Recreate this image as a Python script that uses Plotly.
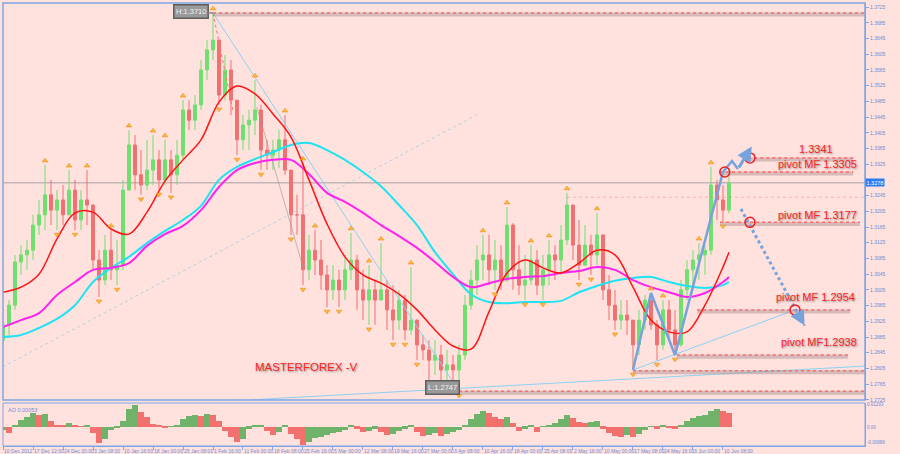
import plotly.graph_objects as go

# ---------------- DATA ----------------
# daily OHLC (bar index 0..121), EURUSD-like
highs = [1.2923,1.2979,1.3094,1.3119,1.3132,1.3196,1.3234,1.3323,1.3285,1.3259,
         1.3272,1.3310,1.3285,1.3259,1.3310,1.3221,1.3106,1.3145,1.3157,1.3132,
         1.3285,1.3412,1.3399,1.3361,1.3387,1.3399,1.3361,1.3387,1.3361,1.3387,
         1.3488,1.3488,1.3501,1.3590,1.3641,1.3710,1.3641,1.3603,1.3590,1.3488,
         1.3450,1.3463,1.3539,1.3476,1.3387,1.3387,1.3412,1.3450,1.3310,1.3247,
         1.3328,1.3145,1.3157,1.3132,1.3068,1.3068,1.3056,1.3094,1.3150,1.3094,
         1.3056,1.3068,1.3030,1.3124,1.3030,1.3017,1.3005,1.2992,1.3063,1.2930,
         1.2890,1.2877,1.2877,1.2865,1.2852,1.2839,1.2865,1.2992,1.3056,1.3119,
         1.3145,1.3145,1.3132,1.3119,1.3216,1.3175,1.3119,1.3094,1.3119,1.3106,
         1.3094,1.3132,1.3119,1.3170,1.3252,1.3221,1.3183,1.3170,1.3145,1.3201,
         1.3145,1.3043,1.3005,1.2979,1.2979,1.2928,1.2954,1.2992,1.2997,1.2928,
         1.2979,1.2979,1.2954,1.3030,1.3081,1.3106,1.3124,1.3119,1.3318,1.3285,
         1.3272,1.3310]
lows = [1.2865,1.2890,1.2954,1.3043,1.3056,1.3081,1.3145,1.3157,1.3170,1.3157,
        1.3170,1.3196,1.3157,1.3157,1.3170,1.3056,1.2987,1.3017,1.3030,1.3017,
        1.3056,1.3259,1.3259,1.3247,1.3259,1.3272,1.3259,1.3272,1.3252,1.3272,
        1.3336,1.3412,1.3412,1.3463,1.3539,1.3590,1.3476,1.3488,1.3450,1.3348,
        1.3361,1.3361,1.3399,1.3310,1.3310,1.3310,1.3315,1.3298,1.3145,1.3145,
        1.3017,1.3030,1.3043,1.3005,1.2961,1.2979,1.2961,1.2979,1.3030,1.2954,
        1.2928,1.2916,1.2916,1.2979,1.2903,1.2877,1.2903,1.2877,1.2890,1.2826,
        1.2826,1.2775,1.2788,1.2763,1.2775,1.2755,1.2747,1.2826,1.2954,1.2992,
        1.3030,1.3017,1.3005,1.3005,1.3025,1.3005,1.2992,1.2979,1.3017,1.2992,
        1.2979,1.3017,1.3030,1.3043,1.3119,1.3081,1.3030,1.3068,1.3043,1.3068,
        1.2979,1.2928,1.2903,1.2903,1.2890,1.2801,1.2839,1.2903,1.2903,1.2826,
        1.2852,1.2877,1.2839,1.2860,1.2979,1.3005,1.3030,1.3043,1.3094,1.3183,
        1.3178,1.3200]
closes = [1.2916,1.2966,1.3076,1.3094,1.3106,1.3170,1.3196,1.3247,1.3208,1.3234,
          1.3196,1.3259,1.3183,1.3234,1.3221,1.3081,1.3030,1.3106,1.3056,1.3068,
          1.3259,1.3374,1.3298,1.3272,1.3310,1.3336,1.3285,1.3336,1.3298,1.3348,
          1.3463,1.3437,1.3476,1.3565,1.3616,1.3641,1.3501,1.3565,1.3488,1.3387,
          1.3425,1.3437,1.3463,1.3361,1.3348,1.3361,1.3387,1.3310,1.3196,1.3196,
          1.3056,1.3106,1.3081,1.3043,1.3005,1.3030,1.3005,1.3056,1.3081,1.3005,
          1.2979,1.3005,1.2979,1.3005,1.2954,1.2928,1.2979,1.2903,1.2928,1.2865,
          1.2852,1.2826,1.2839,1.2801,1.2814,1.2801,1.2839,1.2966,1.3030,1.3081,
          1.3094,1.3056,1.3081,1.3030,1.3170,1.3056,1.3017,1.3030,1.3081,1.3017,
          1.3056,1.3094,1.3081,1.3132,1.3221,1.3119,1.3068,1.3119,1.3094,1.3145,
          1.3005,1.2966,1.2928,1.2941,1.2928,1.2865,1.2928,1.2979,1.2916,1.2865,
          1.2954,1.2903,1.2865,1.3005,1.3056,1.3081,1.3094,1.3106,1.3272,1.3234,
          1.3208,1.3277]
first_open = 1.2877
last_price = 1.3278

# moving averages read every 3 bars
ma_bars = [0,3,6,9,12,15,18,21,24,27,30,33,36,39,42,45,48,51,54,57,60,63,66,69,
           72,75,78,81,84,87,90,93,96,99,102,105,108,111,114,117,120,121]
ma_red = [1.2999,1.3012,1.3045,1.3135,1.3201,1.3203,1.3160,1.3147,1.3203,1.3282,
          1.3336,1.3387,1.3483,1.3524,1.3504,1.3453,1.3394,1.3285,1.3173,1.3089,
          1.3043,1.3022,1.2994,1.2954,1.2903,1.2862,1.2854,1.2949,1.3048,1.3081,
          1.3061,1.3048,1.3073,1.3106,1.3094,1.3012,1.2928,1.2898,1.2898,1.2966,
          1.3063,1.3101]
ma_magenta = [1.2910,1.2928,1.2946,1.2992,1.3025,1.3056,1.3061,1.3073,1.3117,1.3147,
              1.3168,1.3208,1.3267,1.3310,1.3328,1.3336,1.3336,1.3300,1.3252,1.3229,
              1.3201,1.3170,1.3142,1.3112,1.3076,1.3038,1.3012,1.3022,1.3033,1.3038,
              1.3040,1.3048,1.3053,1.3063,1.3056,1.3030,1.3012,1.2999,1.2987,1.2997,
              1.3025,1.3038]
ma_cyan = [1.2885,1.2890,1.2908,1.2931,1.2966,1.3025,1.3061,1.3089,1.3124,1.3155,
           1.3183,1.3219,1.3285,1.3318,1.3338,1.3356,1.3374,1.3379,1.3361,1.3336,
           1.3305,1.3269,1.3221,1.3170,1.3101,1.3045,1.2994,1.2974,1.2971,1.2974,
           1.2974,1.2977,1.2999,1.3015,1.3028,1.3035,1.3038,1.3025,1.3015,1.3010,
           1.3017,1.3025]

# Awesome oscillator per bar
ao = [-0.0017,-0.0034,0.0011,0.0039,0.0056,0.0078,0.0067,0.0073,0.0034,0.0011,
      0.0006,0.0022,0.0011,0.0003,0.0011,-0.0034,-0.0090,-0.0067,-0.0017,-0.0006,
      0.0034,0.0101,0.0123,0.0084,0.0056,0.0017,0.0006,-0.0003,0.0002,0.0011,
      0.0045,0.0062,0.0067,0.0062,0.0073,0.0067,0.0034,-0.0022,-0.0056,-0.0084,
      -0.0067,-0.0011,0.0006,0.0011,-0.0022,-0.0045,-0.0028,0.0011,-0.0039,-0.0067,
      -0.0101,-0.0084,-0.0062,-0.0056,-0.0045,-0.0034,-0.0028,-0.0017,0.0006,-0.0011,
      -0.0028,-0.0022,-0.0011,-0.0028,-0.0045,-0.0039,-0.0022,-0.0011,0.0006,-0.0028,
      -0.0050,-0.0045,-0.0034,-0.0050,-0.0039,-0.0028,-0.0017,0.0011,0.0045,0.0073,
      0.0090,0.0078,0.0056,0.0045,0.0056,0.0022,-0.0022,-0.0011,0.0006,-0.0028,
      0.0002,0.0011,0.0022,0.0045,0.0067,0.0050,0.0028,0.0022,0.0028,0.0034,
      -0.0011,-0.0034,-0.0050,-0.0056,-0.0045,-0.0056,-0.0039,-0.0017,0.0002,-0.0011,
      0.0006,-0.0002,-0.0011,0.0011,0.0034,0.0050,0.0062,0.0067,0.0090,0.0101,
      0.0090,0.0078]
ao_label = "AO 0.00053"

# time axis labels (one every 5 bars)
date_labels = ["10 Dec 2012","17 Dec 12:00","24 Dec 20:00","3 Jan 08:00","10 Jan 16:00",
               "18 Jan 00:00","25 Jan 08:00","1 Feb 16:00","11 Feb 00:00","18 Feb 08:00",
               "25 Feb 16:00","5 Mar 00:00","12 Mar 08:00","19 Mar 16:00","27 Mar 00:00",
               "3 Apr 08:00","10 Apr 16:00","18 Apr 00:00","25 Apr 08:00","2 May 16:00",
               "10 May 00:00","17 May 08:00","24 May 16:00","3 Jun 00:00","10 Jun 08:00"]
price_ticks = [1.3725,1.3685,1.3645,1.3605,1.3565,1.3525,1.3485,1.3445,1.3405,1.3365,
               1.3325,1.3245,1.3205,1.3165,1.3125,1.3085,1.3045,1.3005,1.2965,
               1.2925,1.2885,1.2845,1.2805,1.2765,1.2725]
ao_ticks = [0.01293, 0.0, -0.00889]
ao_ticktext = ["0.01293", "0.00", "-0.00889"]

# pivot levels (horizontal marked lines)
pivot_levels = [1.3710, 1.3341, 1.3305, 1.3177, 1.2954, 1.2839, 1.2799, 1.2747]
pivot_from = [35, 124.2, 119.5, 119.5, 115.7, 112.3, 105, 76]
pivot_to = [143.7, 141.7, 141.7, 142.8, 141.2, 140.8, 143.7, 143.7]
pivot_texts = ["1.3341", "pivot MF 1.3305", "pivot MF 1.3177", "pivot MF 1.2954", "pivot MF1.2938"]

# zigzag of last swing and projection
zz_bars = [105, 108, 112, 120, 121.5, 122.5]
zz_prices = [1.2801, 1.2997, 1.2839, 1.3305, 1.3333, 1.3313]
proj_up = [(122.5, 1.3313), (124.8, 1.3370)]
proj_down = [(123.0, 1.3211), (133.6, 1.2914)]
circle_bars = [124.5, 120.3, 124.5, 132.0]
circle_prices = [1.3341, 1.3305, 1.3177, 1.2954]

# trend lines
trend_lines = [((35, 1.3710), (76, 1.2747)),
               ((41.2, 1.2725), (143.7, 1.2811)),
               ((105, 1.2801), (132, 1.2954))]
faint_line = ((0, 1.2809), (79.5, 1.3455))
grey_line = ((42.3, 1.3471), (50, 1.3063))
pink_line = ((35, 1.3710), (38.3, 1.3463))
faint_level = (94, 1.3241)

# ---------------- STYLE ----------------
BG = "#ffe1de"
AX = "#7fa6e6"
TXT = "#6a8fd6"
GREEN = "#6fe06f"
RED = "#f27070"
FONT = "Liberation Sans"
XMAX = 143.67

n = len(closes)
bars = list(range(n))
opens = [first_open] + closes[:-1]

fig = go.Figure()

# trend lines (behind)
for (p0, p1) in trend_lines:
    fig.add_trace(go.Scatter(x=[p0[0], p1[0]], y=[p0[1], p1[1]], mode="lines",
                             line=dict(color="#8ad2f0", width=1), hoverinfo="skip"))
fig.add_trace(go.Scatter(x=[faint_line[0][0], faint_line[1][0]], y=[faint_line[0][1], faint_line[1][1]],
                         mode="lines", line=dict(color="rgba(120,200,225,0.6)", width=1, dash="dot"), hoverinfo="skip"))
fig.add_trace(go.Scatter(x=[grey_line[0][0], grey_line[1][0]], y=[grey_line[0][1], grey_line[1][1]],
                         mode="lines", line=dict(color="rgba(150,150,150,0.6)", width=1), hoverinfo="skip"))
fig.add_trace(go.Scatter(x=[pink_line[0][0], pink_line[1][0]], y=[pink_line[0][1], pink_line[1][1]],
                         mode="lines", line=dict(color="#ff7070", width=1, dash="dot"), hoverinfo="skip"))
fig.add_trace(go.Scatter(x=[faint_level[0], XMAX], y=[faint_level[1], faint_level[1]],
                         mode="lines", line=dict(color="rgba(255,110,110,0.45)", width=1, dash="dot"), hoverinfo="skip"))

# pivot lines with shadow
for lv, a, b in zip(pivot_levels, pivot_from, pivot_to):
    fig.add_trace(go.Scatter(x=[a, b], y=[lv - 0.0004, lv - 0.0004], mode="lines",
                             line=dict(color="rgba(165,140,140,0.45)", width=4), hoverinfo="skip"))
    fig.add_trace(go.Scatter(x=[a, b], y=[lv, lv], mode="lines",
                             line=dict(color="#ff6a6a", width=1.5, dash="dot"), hoverinfo="skip"))

# candles
fig.add_trace(go.Candlestick(x=bars, open=opens, high=highs, low=lows, close=closes,
                             increasing=dict(line=dict(color=GREEN, width=1), fillcolor=GREEN),
                             decreasing=dict(line=dict(color=RED, width=1), fillcolor=RED),
                             whiskerwidth=0, hoverinfo="skip"))

# moving averages
fig.add_trace(go.Scatter(x=ma_bars, y=ma_cyan, mode="lines", line=dict(color="#1ee3f2", width=2, shape="spline"), hoverinfo="skip"))
fig.add_trace(go.Scatter(x=ma_bars, y=ma_magenta, mode="lines", line=dict(color="#ff22ee", width=2, shape="spline"), hoverinfo="skip"))
fig.add_trace(go.Scatter(x=ma_bars, y=ma_red, mode="lines", line=dict(color="#ff1414", width=1.5, shape="spline"), hoverinfo="skip"))

# fractals
up_i = [i for i in range(1, n - 1) if highs[i] > highs[i - 1] and highs[i] >= highs[i + 1]]
dn_i = [i for i in range(1, n - 1) if lows[i] < lows[i - 1] and lows[i] <= lows[i + 1]]
fig.add_trace(go.Scatter(x=up_i, y=[highs[i] + 0.0011 for i in up_i], mode="markers",
                         marker=dict(symbol="triangle-up", size=5, color="#ffb340", line=dict(color="#e58a00", width=0.5)),
                         hoverinfo="skip"))
fig.add_trace(go.Scatter(x=dn_i, y=[lows[i] - 0.0011 for i in dn_i], mode="markers",
                         marker=dict(symbol="triangle-down", size=5, color="#ffb340", line=dict(color="#e58a00", width=0.5)),
                         hoverinfo="skip"))

# zigzag + projections
fig.add_trace(go.Scatter(x=zz_bars, y=zz_prices, mode="lines", line=dict(color="#76a3dc", width=2.5), hoverinfo="skip"))
fig.add_trace(go.Scatter(x=[p[0] for p in proj_down], y=[p[1] for p in proj_down], mode="lines",
                         line=dict(color="#76a3dc", width=3, dash="dot"), hoverinfo="skip"))
fig.add_trace(go.Scatter(x=circle_bars, y=circle_prices, mode="markers",
                         marker=dict(symbol="circle-open", size=10, color="#ee2020", line=dict(width=1.5)),
                         hoverinfo="skip"))

# AO histogram
ao_colors = ["#6fb36a" if (i == 0 or ao[i] >= ao[i - 1]) else "#f2716f" for i in range(n)]
fig.add_trace(go.Bar(x=bars, y=ao, marker=dict(color=ao_colors, line=dict(width=0)), width=1.0,
                     xaxis="x2", yaxis="y2", hoverinfo="skip"))

main_bottom = (446 - 400) / 443
ao_top = (446 - 403) / 443

annotations = []
# arrows of projections
annotations.append(dict(x=proj_up[1][0], y=proj_up[1][1], ax=proj_up[0][0], ay=proj_up[0][1],
                        xref="x", yref="y", axref="x", ayref="y", text="", showarrow=True,
                        arrowhead=2, arrowsize=1, arrowwidth=3, arrowcolor="#76a3dc"))
annotations.append(dict(x=proj_down[1][0], y=proj_down[1][1], ax=proj_down[1][0] - 0.8, ay=proj_down[1][1] + 0.0022,
                        xref="x", yref="y", axref="x", ayref="y", text="", showarrow=True,
                        arrowhead=2, arrowsize=1, arrowwidth=3, arrowcolor="#76a3dc"))
# H / L labels
hi_i = max(range(n), key=lambda i: highs[i])
lo_i = min(range(n), key=lambda i: lows[i])
annotations.append(dict(x=hi_i, y=highs[hi_i], xref="x", yref="y", text="H:%.4f" % highs[hi_i],
                        showarrow=True, arrowhead=0, arrowwidth=1.5, arrowcolor="#8a8a8a", ax=-22, ay=-1,
                        bgcolor="#9a9a9a", bordercolor="#5e5e5e", borderwidth=1.5, borderpad=1.5,
                        font=dict(family=FONT, size=7.5, color="#f2f2f2")))
annotations.append(dict(x=lo_i, y=lows[lo_i], xref="x", yref="y", text="L:%.4f" % lows[lo_i],
                        showarrow=True, arrowhead=0, arrowwidth=1.5, arrowcolor="#8a8a8a", ax=-16, ay=-4,
                        bgcolor="#9a9a9a", bordercolor="#5e5e5e", borderwidth=1.5, borderpad=1.5,
                        font=dict(family=FONT, size=7.5, color="#f2f2f2")))
# pivot texts
text_pos = [(816, 149), (817, 164), (817, 215), (815, 297), (819, 342)]
for t, (px, py) in zip(pivot_texts, text_pos):
    annotations.append(dict(x=(px - 3) / 862, y=(446 - py) / 443, xref="paper", yref="paper", text=t,
                            xanchor="center", yanchor="middle", showarrow=False,
                            font=dict(family=FONT, size=11, color="#ff2424", shadow="1px 1px 2px #8a8a8a")))
annotations.append(dict(x=(306 - 3) / 862, y=(446 - 367) / 443, xref="paper", yref="paper", text="MASTERFOREX -V",
                        xanchor="center", yanchor="middle", showarrow=False,
                        font=dict(family=FONT, size=11.5, color="#ff2424", shadow="1px 1px 2px #8a8a8a")))
# current price label
annotations.append(dict(x=1.0, y=last_price, xref="paper", yref="y", xanchor="left", text="%.4f" % last_price,
                        showarrow=False, bgcolor="#2d7cf4", borderpad=0.5,
                        font=dict(family=FONT, size=5.5, color="white")))
annotations.append(dict(x=0.003, y=ao_top - 0.004, xref="paper", yref="paper", xanchor="left", yanchor="top",
                        text=ao_label, showarrow=False, font=dict(family=FONT, size=5.5, color=TXT)))

shapes = [
    dict(type="rect", xref="paper", yref="paper", x0=0, x1=1, y0=main_bottom, y1=1,
         line=dict(color=AX, width=1.5), fillcolor="rgba(0,0,0,0)", layer="above"),
    dict(type="rect", xref="paper", yref="paper", x0=0, x1=1, y0=0, y1=ao_top,
         line=dict(color=AX, width=1), fillcolor="rgba(0,0,0,0)", layer="above"),
    dict(type="line", xref="paper", yref="y", x0=0, x1=1, y0=last_price, y1=last_price,
         line=dict(color="#c4b6b6", width=1.5), layer="below"),
]

fig.update_layout(
    width=900, height=454, margin=dict(l=3, r=35, t=3, b=8, autoexpand=False),
    paper_bgcolor=BG, plot_bgcolor=BG, showlegend=False, bargap=0,
    font=dict(family=FONT, size=6, color=TXT),
    xaxis=dict(domain=[0, 1], range=[0, XMAX], anchor="y", showticklabels=False, showgrid=False,
               zeroline=False, rangeslider=dict(visible=False), fixedrange=True, automargin=False),
    yaxis=dict(domain=[main_bottom, 1], range=[1.27246, 1.37354], side="right", tickvals=price_ticks,
               ticktext=["%.4f" % v for v in price_ticks], ticks="outside", ticklen=3, tickcolor=AX,
               tickfont=dict(family=FONT, size=5, color=TXT), showgrid=False, zeroline=False,
               showline=True, linecolor=AX, automargin=False),
    xaxis2=dict(domain=[0, 1], range=[0, XMAX], anchor="y2", matches="x",
                tickvals=[5 * k for k in range(len(date_labels))], ticktext=date_labels,
                ticks="outside", ticklen=3, tickcolor=AX, ticklabelposition="outside right", tickangle=0,
                tickfont=dict(family=FONT, size=5, color=TXT), showgrid=False, zeroline=False,
                showline=True, linecolor=AX, automargin=False),
    yaxis2=dict(domain=[0, ao_top], range=[-0.0107, 0.0135], side="right", tickvals=ao_ticks,
                ticktext=ao_ticktext, ticks="", tickfont=dict(family=FONT, size=4.5, color=TXT),
                showgrid=False, zeroline=False, showline=True, linecolor=AX, automargin=False),
    annotations=annotations, shapes=shapes,
)

fig.write_html("out.html", config={"displayModeBar": False},
               post_script="document.body.style.margin='0';document.body.style.overflow='hidden';")
